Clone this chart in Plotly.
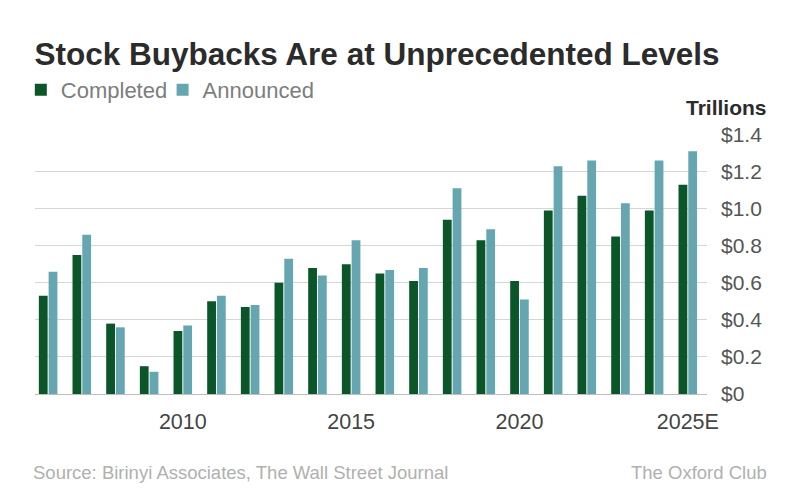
import plotly.graph_objects as go

years = [str(y) for y in range(2006, 2025)] + ['2025E']
completed = [0.53, 0.75, 0.38, 0.15, 0.34, 0.50, 0.47, 0.60, 0.68, 0.70,
             0.65, 0.61, 0.94, 0.83, 0.61, 0.99, 1.07, 0.85, 0.99, 1.13]
announced = [0.66, 0.86, 0.36, 0.12, 0.37, 0.53, 0.48, 0.73, 0.64, 0.83,
             0.67, 0.68, 1.11, 0.89, 0.51, 1.23, 1.26, 1.03, 1.26, 1.31]
x_ticks = ['2010', '2015', '2020', '2025E']
y_ticks = [0, 0.2, 0.4, 0.6, 0.8, 1.0, 1.2, 1.4]
y_labels = ['$0', '$0.2', '$0.4', '$0.6', '$0.8', '$1.0', '$1.2', '$1.4']

green = '#0b5628'
teal = '#65a6b1'
font = 'Liberation Sans, Arial, sans-serif'

trace1 = go.Bar(x=years, y=completed, name='Completed', legend='legend',
                marker=dict(color=green, line=dict(width=0)))
trace2 = go.Bar(x=years, y=announced, name='Announced', legend='legend2',
                marker=dict(color=teal, line=dict(width=0)))

fig = go.Figure(data=[trace1, trace2])

legend_style = dict(orientation='h', xref='container', yref='container',
                    y=0.836, xanchor='left', yanchor='middle',
                    font=dict(size=22, color='#7d7d7d'),
                    itemclick=False, bgcolor='rgba(0,0,0,0)')

# page has an 8px body margin, so everything sits 8px up/left of the reference
fig.update_layout(
    width=801, height=500,
    paper_bgcolor='white', plot_bgcolor='white',
    margin=dict(l=27, r=102, t=121, b=114),
    barmode='group', bargap=0.42, bargroupgap=0.1,
    font=dict(family=font, color='#444444'),
    showlegend=True,
    legend=dict(x=0.016, **legend_style),
    legend2=dict(x=0.193, **legend_style),
    title=dict(text='Stock Buybacks Are at Unprecedented Levels', x=0.033, xanchor='left',
               y=0.886, yanchor='bottom',
               font=dict(family=font, size=31.5, color='#2b2b2b', weight='bold')),
)

fig.update_xaxes(
    type='category', range=[-0.39, 19.57],
    tickmode='array', tickvals=x_ticks, ticktext=x_ticks,
    showgrid=False, showline=False, zeroline=False, ticks='',
    tickfont=dict(size=21.5, color='#444444'), ticklabelstandoff=12,
)
fig.update_yaxes(
    side='right', range=[0, 1.4],
    tickmode='array', tickvals=y_ticks, ticktext=y_labels,
    showgrid=True, gridcolor='#d6d6d6', gridwidth=1,
    zeroline=True, zerolinecolor='#bdbdbd', zerolinewidth=1,
    showline=False, ticks='',
    tickfont=dict(size=21, color='#555555'), ticklabelstandoff=13,
)

fig.add_annotation(text='<b>Trillions</b>', xref='paper', yref='paper', x=1.092, y=1.106,
                   xanchor='right', yanchor='middle', showarrow=False,
                   font=dict(size=21, color='#2b2b2b'))
fig.add_annotation(text='Source: Birinyi Associates, The Wall Street Journal', xref='paper', yref='paper',
                   x=-0.006, y=-0.255, xanchor='left', yanchor='top', showarrow=False,
                   font=dict(size=18.5, color='#b0b0b0'))
fig.add_annotation(text='The Oxford Club', xref='paper', yref='paper', x=1.092, y=-0.255,
                   xanchor='right', yanchor='top', showarrow=False,
                   font=dict(size=18.5, color='#b0b0b0'))

fig.write_html("out.html")
